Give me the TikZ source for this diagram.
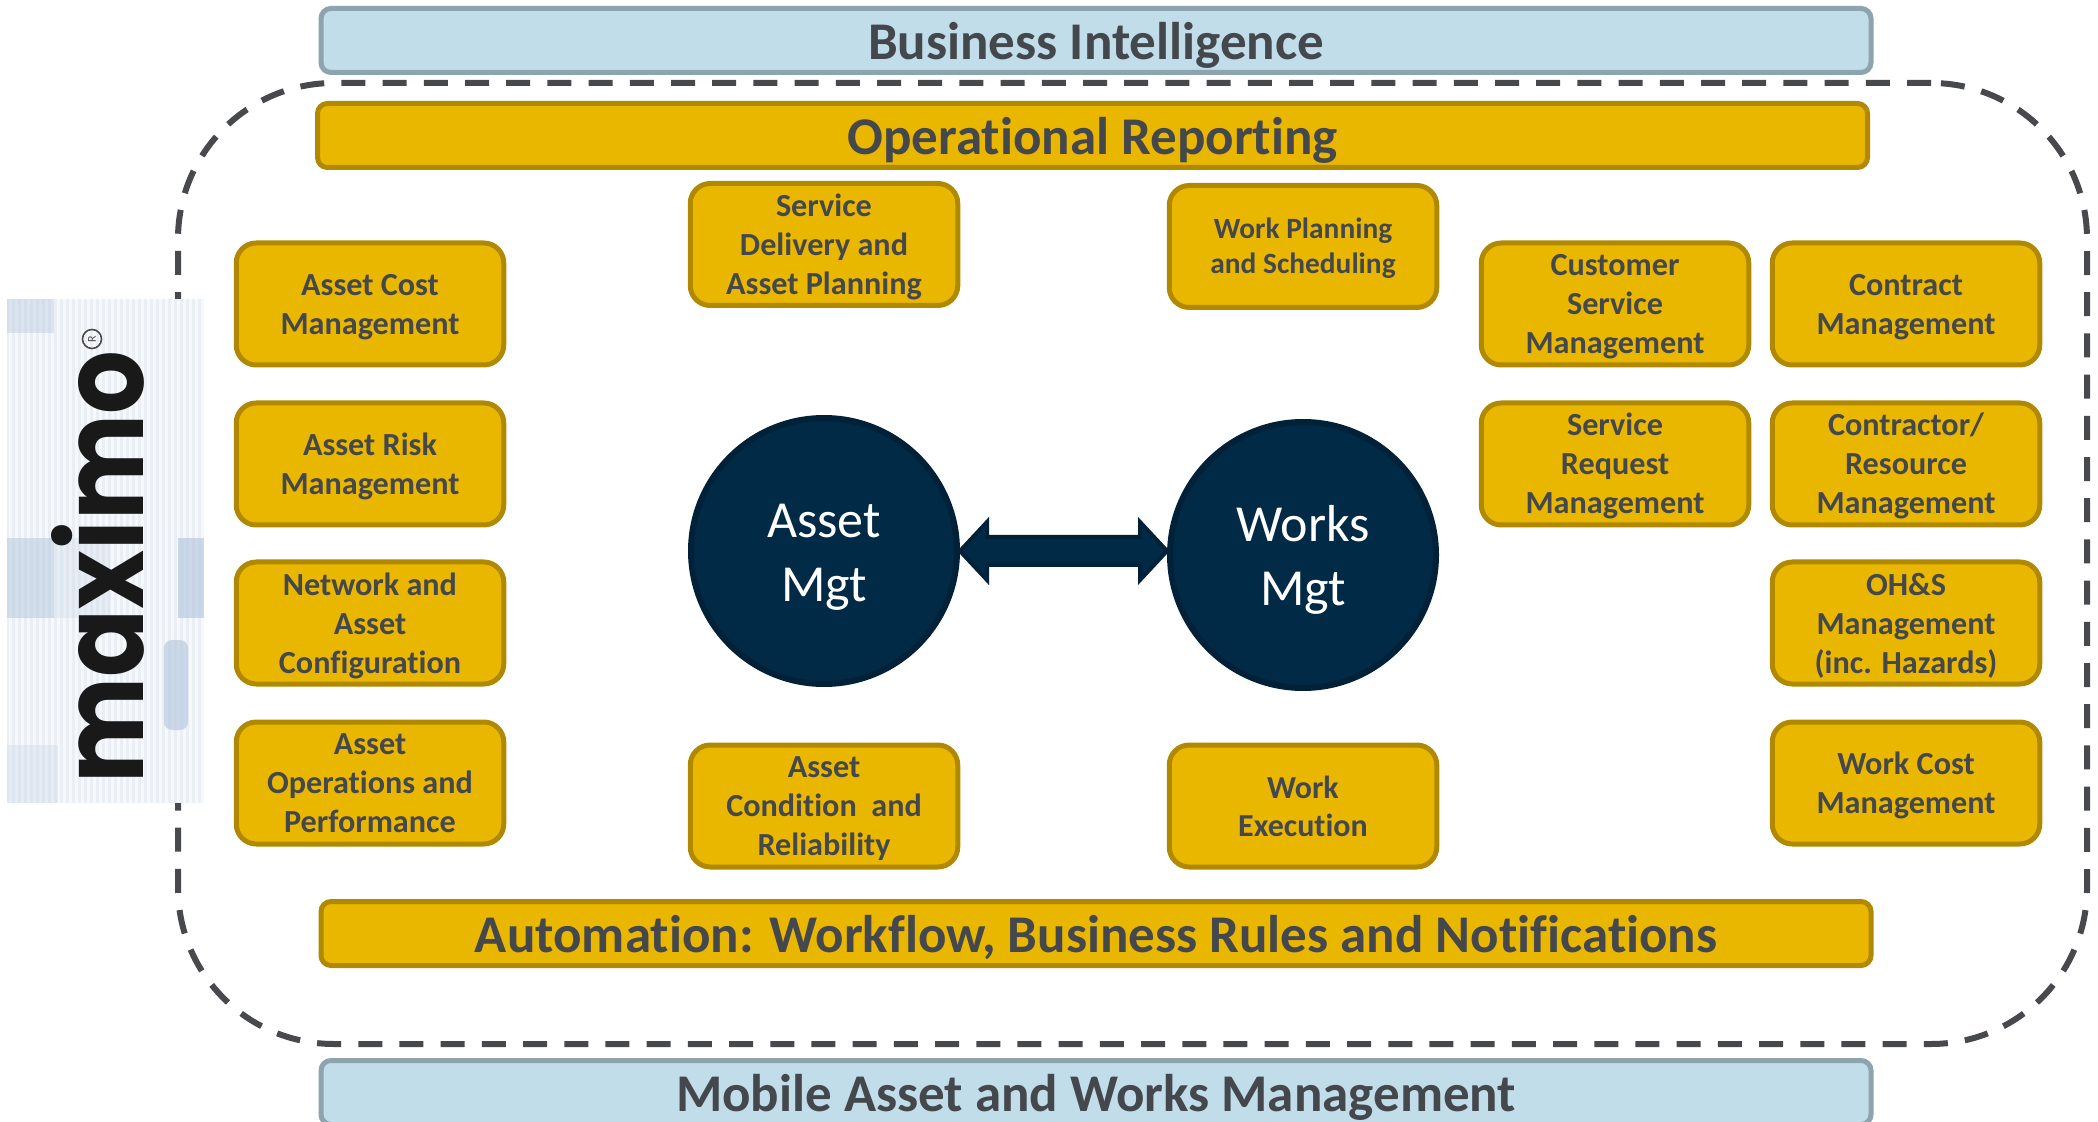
\documentclass[tikz,border=0pt]{standalone}
\usepackage{fontspec}
\usepackage{graphicx}
\setmainfont[Ligatures={NoCommon,NoContextual,NoRequired}]{Carlito}
\newfontfamily\logofont{Poppins}
\usetikzlibrary{calc}
\definecolor{goldfill}{HTML}{EAB700}
\definecolor{goldline}{HTML}{B08900}
\definecolor{bluefill}{HTML}{C1DDE9}
\definecolor{blueline}{HTML}{8DA3AE}
\definecolor{inktext}{HTML}{44484D}
\definecolor{navyfill}{HTML}{002A45}
\definecolor{navyline}{HTML}{012138}
\definecolor{dashline}{HTML}{47494D}
\definecolor{logopatch}{HTML}{A9BFD8}
% centred lines, lowered inside the node without changing the node's size
\newcommand{\lowlines}[2][1.4pt]{\raisebox{-#1}[\height][\depth]{\begin{tabular}{@{}c@{}}#2\end{tabular}}}
\tikzset{
  x=0.5pt,y=-0.5pt,
  banner/.style={rounded corners=5pt,line width=2.5pt,inner sep=0pt,text=inktext,
    font=\bfseries\fontsize{26.5}{30}\selectfont,anchor=center,text height=22.2pt,text depth=3pt},
  bluebar/.style={banner,draw=blueline,fill=bluefill,minimum width=775pt,minimum height=32pt},
  goldbar/.style={banner,draw=goldline,fill=goldfill,minimum width=775pt,minimum height=32pt},
  smallbox/.style={rounded corners=10pt,line width=2.5pt,inner sep=0pt,draw=goldline,fill=goldfill,
    text=inktext,minimum width=133.75pt,minimum height=61pt,
    font=\bfseries\fontsize{16.1}{19.5}\selectfont},
  hub/.style={circle,draw=navyline,fill=navyfill,line width=3pt,inner sep=0pt,minimum size=133pt,
    text=white,font=\fontsize{26}{32}\selectfont},
  frame/.style={rounded corners=78pt,draw=dashline,line width=3pt,dash pattern=on 12pt off 8.6pt,
    inner sep=0pt},
  hublink/.style={draw=navyline,fill=navyfill,line width=2pt,line join=miter},
  logopanel/.style={fill=logopatch},
}
\begin{document}
\begin{tikzpicture}
\clip (0,0) rectangle (2098,1122);
\fill[white] (0,0) rectangle (2098,1122);
% dashed frame
\node[frame,minimum width=954.5pt,minimum height=480.5pt] (scope) at (1132.5,563.5) {};
% banners
\node[bluebar] (bi) at (1096,40.5) {Business Intelligence};
\node[goldbar] (reporting) at (1092.5,135.5) {Operational Reporting};
\node[goldbar] (automation) at (1096,933.5) {Automation: Workflow, Business Rules and Notifications};
\node[bluebar,text height=21.6pt] (mobile) at (1096,1092.5) {Mobile Asset and Works Management};
% left column
\node[smallbox] (cost) at (370,304) {\lowlines{Asset Cost\\Management}};
\node[smallbox] (risk) at (370,464) {\lowlines{Asset Risk\\Management}};
\node[smallbox] (network) at (370,623) {\lowlines[1.9pt]{Network and\\Asset\\Configuration}};
\node[smallbox] (ops) at (370,783) {\lowlines[1.4pt]{Asset\\Operations and\\Performance}};
% centre columns
\node[smallbox] (delivery) at (824,244.5) {\lowlines{Service\\Delivery and\\Asset Planning}};
\node[smallbox,font=\bfseries\fontsize{14.7}{17.5}\selectfont] (planning) at (1303,246.5) {\lowlines[1.5pt]{Work Planning\\and Scheduling}};
\node[smallbox] (condition) at (824,806) {\lowlines{Asset\\Condition~ and\\Reliability}};
\node[smallbox,font=\bfseries\fontsize{16}{19}\selectfont] (execution) at (1303,806) {\lowlines[1.8pt]{Work\\Execution}};
% right columns
\node[smallbox] (customer) at (1615,304) {\lowlines{Customer\\Service\\Management}};
\node[smallbox] (request) at (1615,464) {\lowlines{Service\\Request\\Management}};
\node[smallbox] (contract) at (1906,304) {\lowlines{Contract\\Management}};
\node[smallbox] (contractor) at (1906,464) {\lowlines{Contractor/\\Resource\\Management}};
\node[smallbox] (ohs) at (1906,623) {\lowlines[1.9pt]{OH\&S\\Management\\(inc. Hazards)}};
\node[smallbox] (workcost) at (1906,783) {\lowlines{Work Cost\\Management}};
% hubs
\node[hub] (asset) at (824,551) {\lowlines[2.7pt]{Asset\\Mgt}};
\node[hub] (works) at (1303,555) {\lowlines[2.7pt]{Works\\Mgt}};
\path[hublink] (asset.east) -- ++(27,-29) -- ++(0,15) -- ($(works.west |- asset.east)+(-27,-14)$) -- ++(0,-15)
  -- (works.west |- asset.east) -- ++(-27,29) -- ++(0,-15) -- ($(asset.east)+(27,14)$) -- ++(0,15) -- cycle;
% logo
\fill[white!75!logopatch] (7,299) rectangle (204,803);
\foreach \i in {0,...,32}{
  \fill[white,opacity=0.6] ({9+\i*6},299) rectangle ({12+\i*6},803);
}
\fill[logopanel,opacity=0.35] (7,299) rectangle (54,333);
\fill[logopanel,opacity=0.45] (7,538) rectangle (54,618);
\fill[logopanel,opacity=0.18] (54,538) rectangle (110,618);
\fill[logopanel,opacity=0.55] (178,538) rectangle (204,618);
\fill[logopanel,opacity=0.55,rounded corners=4pt] (164,640) rectangle (188,730);
\fill[logopanel,opacity=0.2] (7,745) rectangle (58,803);
\node[rotate=90,inner sep=0pt,text=black!90,font=\logofont\bfseries] (logo) at (98,567) {\resizebox{216pt}{46pt}{maximo}};
\node[circle,draw=black!70,line width=0.8pt,inner sep=0pt,minimum size=9.5pt,rotate=90,text=black!70,font=\fontsize{6}{7}\selectfont] (reg) at (92,339) {R};
\end{tikzpicture}
\end{document}
